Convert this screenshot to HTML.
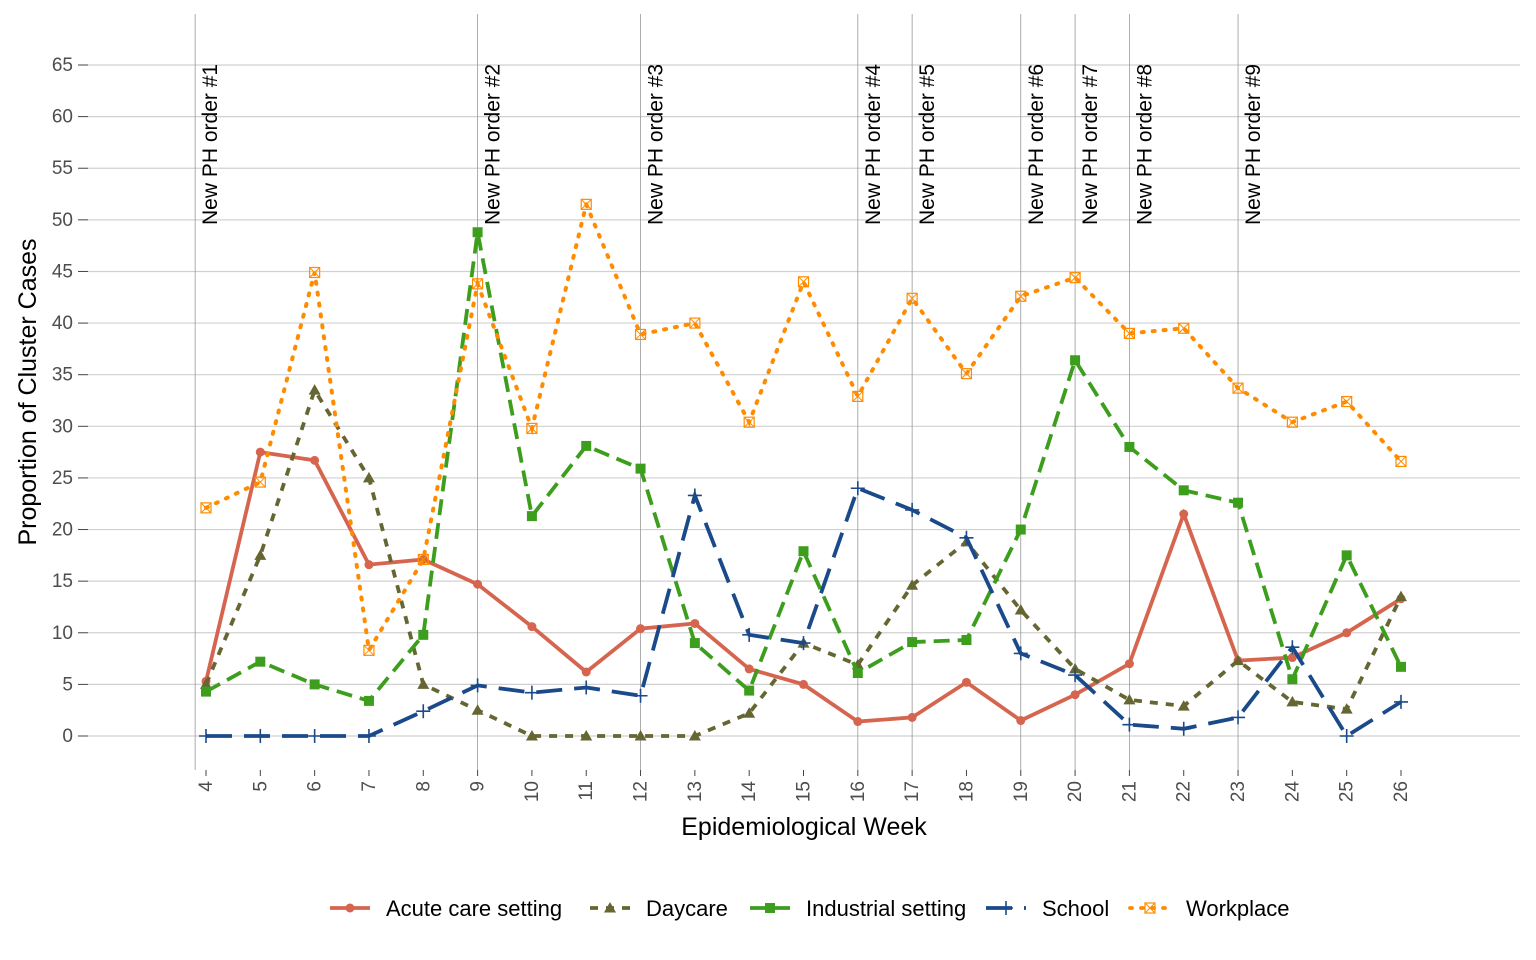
<!DOCTYPE html>
<html><head><meta charset="utf-8"><style>body{margin:0;background:#fff}svg{display:block;font-family:"Liberation Sans",Arial,sans-serif}</style></head>
<body><svg id="s" width="1536" height="960" viewBox="0 0 1536 960"></svg>
<script>
const s=document.getElementById('s');let h='';
const X=w=>206+(w-4)*54.318, Y=v=>736-v*10.323;
for(let v=0;v<=65;v+=5){const y=Y(v);h+=`<line x1="88" x2="1520" y1="${y}" y2="${y}" stroke="#d0d0d0" stroke-width="1.2"/><line x1="78" x2="88" y1="${y}" y2="${y}" stroke="#444" stroke-width="1"/><text x="73" y="${y+6}" font-size="19" fill="#4d4d4d" text-anchor="end">${v}</text>`;}
for(let w=4;w<=26;w++){const x=X(w);h+=`<line x1="${x}" x2="${x}" y1="770" y2="776" stroke="#444"/><text transform="translate(${x+6},781) rotate(-90)" font-size="19" fill="#4d4d4d" text-anchor="end">${w}</text>`;}
const vl=[[3.8,1],[9,2],[12,3],[16,4],[17,5],[19,6],[20,7],[21,8],[23,9]];
vl.forEach(([w,n])=>{const x=X(w);h+=`<line x1="${x}" x2="${x}" y1="14" y2="770" stroke="#999" stroke-width="0.8"/><text transform="translate(${x+22},225) rotate(-90)" font-size="21" fill="#000">New PH order #${n}</text>`;});
h+=`<text x="804" y="835" font-size="25" text-anchor="middle">Epidemiological Week</text><text transform="translate(36,392) rotate(-90)" font-size="25" text-anchor="middle">Proportion of Cluster Cases</text>`;
const S=[
['#d6654f','',[5.3,27.5,26.7,16.6,17.1,14.7,10.6,6.2,10.4,10.9,6.5,5.0,1.4,1.8,5.2,1.5,4.0,7.0,21.5,7.3,7.6,10.0,13.3],'c'],
['#666633','8,8',[5.0,17.5,33.5,25.0,5.0,2.5,0,0,0,0,2.2,9.0,6.9,14.6,18.8,12.2,6.5,3.5,2.9,7.3,3.3,2.6,13.5],'t'],
['#3d9e1e','16,8',[4.3,7.2,5.0,3.4,9.8,48.8,21.3,28.1,25.9,9.0,4.4,17.9,6.1,9.1,9.3,20.0,36.4,28.0,23.8,22.6,5.5,17.5,6.7],'q'],
['#1a4a8a','26,12',[0,0,0,0,2.4,4.9,4.2,4.7,3.9,23.3,9.8,9.0,24.0,21.9,19.2,8.0,5.9,1.1,0.7,1.8,8.6,0,3.3],'p'],
['#ff8c00','2,9',[22.1,24.6,44.9,8.3,17.1,43.8,29.8,51.5,38.9,40.0,30.4,44.0,32.9,42.4,35.1,42.6,44.4,39.0,39.5,33.7,30.4,32.4,26.6],'b']];
function mk(t,c,x,y){if(t=='c')return `<circle cx="${x}" cy="${y}" r="4.5" fill="${c}"/>`;
if(t=='t')return `<polygon points="${x},${y-6} ${x-6},${y+4.5} ${x+6},${y+4.5}" fill="${c}"/>`;
if(t=='q')return `<rect x="${x-5}" y="${y-5}" width="10" height="10" fill="${c}"/>`;
if(t=='p')return `<path d="M${x-7} ${y}H${x+7}M${x} ${y-7}V${y+7}" stroke="${c}" stroke-width="1.6"/>`;
return `<rect x="${x-5}" y="${y-5}" width="10" height="10" fill="none" stroke="${c}" stroke-width="1.2"/><path d="M${x-5} ${y-5}L${x+5} ${y+5}M${x+5} ${y-5}L${x-5} ${y+5}" stroke="${c}" stroke-width="1"/>`;}
S.forEach(([c,d,v,t])=>{h+=`<polyline fill="none" stroke="${c}" stroke-width="${t=='b'?4:3.8}" stroke-linecap="${t=='b'?'round':'butt'}" stroke-dasharray="${d}" points="${v.map((a,i)=>X(i+4)+','+Y(a)).join(' ')}"/>`;v.forEach((a,i)=>h+=mk(t,c,X(i+4),Y(a)));});
const L=[['Acute care setting',330],['Daycare',590],['Industrial setting',750],['School',986],['Workplace',1130]];
L.forEach(([n,x],i)=>{const [c,d,,t]=S[i];h+=`<line x1="${x}" x2="${x+40}" y1="908" y2="908" stroke="${c}" stroke-width="3.8" stroke-dasharray="${d}" stroke-linecap="${t=='b'?'round':'butt'}"/>`+mk(t,c,x+20,908)+`<text x="${x+56}" y="916" font-size="22">${n}</text>`;});
s.innerHTML=h;
</script></body></html>
